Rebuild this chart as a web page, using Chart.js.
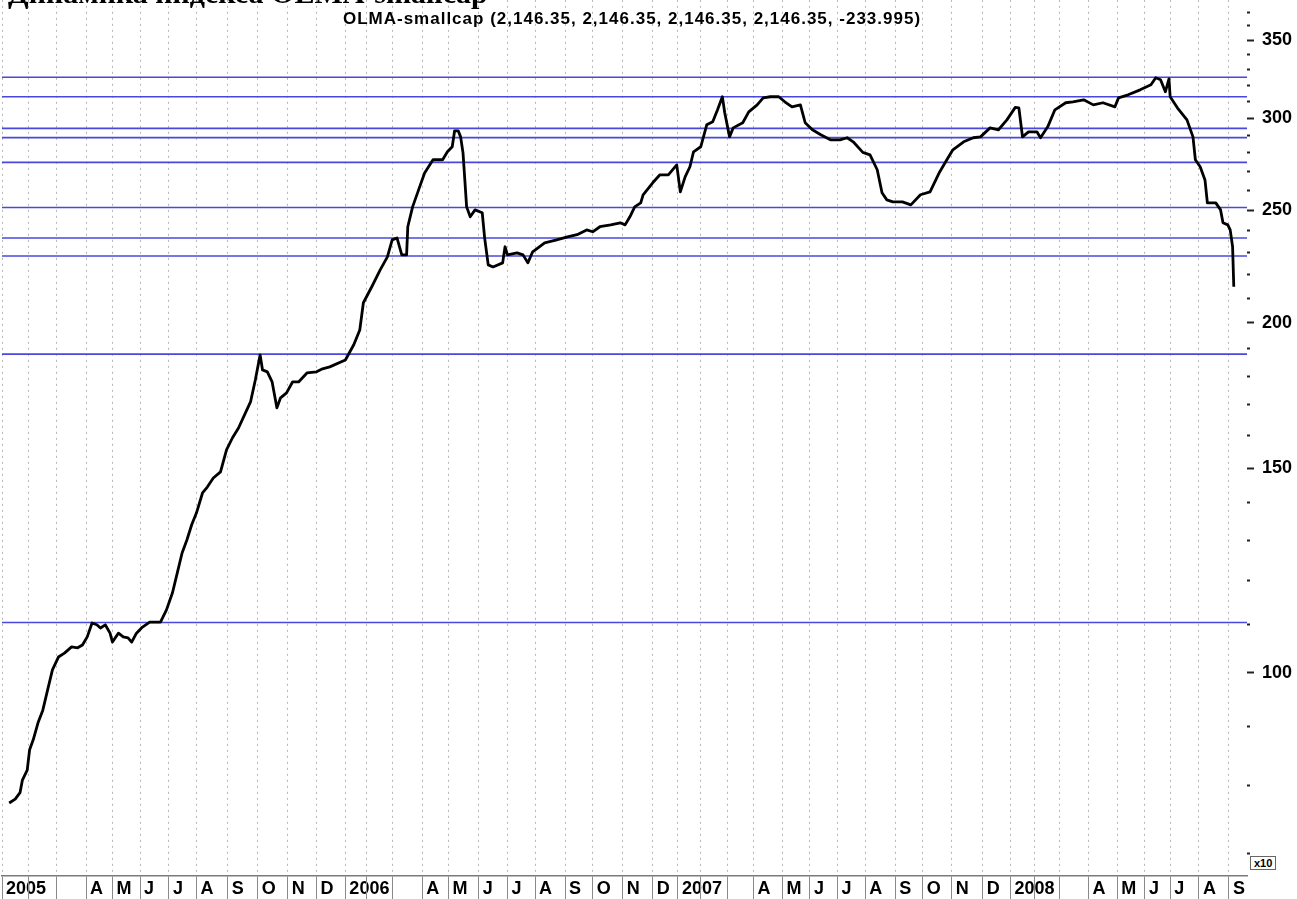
<!DOCTYPE html>
<html>
<head>
<meta charset="utf-8">
<title>Динамика индекса OLMA-smallcap</title>
<script src="https://cdn.jsdelivr.net/npm/chart.js@4.4.1/dist/chart.umd.min.js"></script>
<style>
html,body{margin:0;padding:0;background:#fff;width:1297px;height:899px;overflow:hidden;position:relative}
canvas{position:absolute;left:0;top:0}
#page-title{position:absolute;left:8px;top:-23px;font:bold 30px "Liberation Serif",serif;line-height:31px;white-space:nowrap;color:#000;z-index:2}
#chart-title{position:absolute;left:0;top:9px;width:1264px;text-align:center;font:bold 17px "Liberation Sans",Arial,sans-serif;line-height:20px;letter-spacing:1px;color:#000;z-index:2}
#scale-box{position:absolute;left:1250px;top:856px;border:1px solid #666;font:bold 11px "Liberation Sans",Arial,sans-serif;line-height:12px;padding:0 3px;color:#000;background:#fff;z-index:2}
</style>
</head>
<body>
<div id="page-title">Динамика индекса OLMA-smallcap</div>
<div id="chart-title">OLMA-smallcap (2,146.35, 2,146.35, 2,146.35, 2,146.35, -233.995)</div>
<div id="scale-box">x10</div>
<canvas id="chart"></canvas>
<script>
// index values; bar = trading bar number from the left edge
const bars = [2,7,11,13,17,19,22,26,30,34,38,43,48,54,59,63,67,71,75,78,82,86,88,93,97,101,104,108,113,119,
  128,133,138,142,146,150,154,158,163,167,172,178,183,188,193,198,203,207,211,213,217,221,225,228,233,238,243,250,258,263,
  269,282,289,294,297,304,311,317,321,325,329,333,334,338,343,348,355,363,367,371,373,376,378,380,383,386,390,396,398,401,
  405,413,415,417,425,430,434,438,448,458,467,475,483,488,494,503,511,515,519,523,528,530,538,544,551,558,561,565,569,572,
  578,583,588,592,596,598,602,605,613,618,625,630,636,643,648,654,661,665,671,678,686,694,700,705,713,719,725,729,733,738,
  746,753,761,769,777,783,788,797,805,811,819,826,833,840,843,846,851,858,861,867,873,882,888,897,905,913,923,926,934,944,
  953,957,961,965,968,969,975,983,988,990,994,998,1000,1007,1011,1013,1017,1019,1021,1022];
const closes = [77.3,77.9,78.9,80.9,82.5,85.9,87.6,90.6,92.9,96.7,100.6,103.2,104.0,105.3,105.1,105.7,107.4,110.4,110.0,109.3,110.0,108.2,106.3,108.2,107.4,107.2,106.3,108.2,109.5,110.6,
  110.6,113.3,117.2,121.9,126.8,130.1,134.1,137.3,142.8,144.5,147.1,148.9,155.5,159.3,162.4,166.7,171.0,178.6,187.7,182.2,181.5,177.9,169.0,172.4,174.1,177.9,177.9,181.1,181.5,182.6,
  183.3,185.8,191.5,197.2,208.1,214.8,222.1,227.9,235.7,236.6,228.8,228.8,241.9,251.6,260.2,269.1,276.2,276.2,280.6,283.4,292.5,292.5,289.0,280.0,251.6,246.7,250.1,248.7,236.6,224.3,
  223.4,225.2,232.5,228.8,229.7,228.8,225.2,230.2,234.3,235.7,237.1,238.1,240.4,239.5,241.9,242.8,243.8,242.8,246.7,251.6,253.6,257.7,263.9,268.1,268.1,273.4,259.2,267.0,272.4,280.6,
  283.4,296.0,297.8,304.9,312.9,303.1,289.0,294.2,297.2,303.7,307.9,312.2,312.9,312.9,309.8,306.7,307.9,297.2,293.1,290.2,287.3,287.3,288.5,286.2,280.3,278.9,270.8,258.7,255.1,254.1,
  254.1,252.6,257.7,259.2,269.6,276.2,281.7,286.2,288.5,289.0,294.2,293.1,298.9,306.4,306.1,289.0,291.9,291.9,288.5,294.8,304.9,309.2,309.8,311.0,307.9,309.2,306.7,312.2,314.1,317.2,
  320.4,324.9,323.6,316.0,324.2,312.9,306.1,298.9,289.0,276.2,272.4,265.4,253.6,253.6,250.1,243.8,242.8,240.4,232.5,214.8];

// horizontal support / resistance levels
const levels = [325.2, 312.9, 293.9, 288.6, 274.8, 251.3, 236.6, 228.3, 188.0, 110.5];

// month boundaries (bar number) and their labels
const monthBars = [-4,18,41,66,88,111,135,158,184,209,234,258,
  282,300,321,346,368,393,417,440,465,488,513,538,
  559,578,600,622,646,669,692,715,740,763,787,813,
  836,856,877,901,925,948,969,993,1018];
const monthLabels = ['2005','','','A','M','J','J','A','S','O','N','D',
  '2006','','','A','M','J','J','A','S','O','N','D',
  '2007','','','A','M','J','J','A','S','O','N','D',
  '2008','','','A','M','J','J','A','S'];

const yTicks = [70,80,90,100,110,120,130,140,150,160,170,180,190,200,210,220,230,240,250,260,270,280,290,300,310,320,330,340,350,360,370];
const yLabelled = [100,150,200,250,300,350];

const X_MIN = -4, X_MAX = 1033;
const Y_MIN = 66.9, Y_MAX = 379.1;

const AREA_BOTTOM = 876;  // page y of the date axis
const AREA_RIGHT = 1247;
const FONT_FAMILY = '"Liberation Sans", Arial, sans-serif';
const tickFont = {family:FONT_FAMILY, size:18, weight:'bold'};

// month letters sit in the row under the date axis, right of each separator
const monthLabelPlugin = {
  id:'monthLabels',
  beforeDraw(chart){
    const xs = chart.scales.x, ctx = chart.ctx;
    ctx.save();
    ctx.font = 'bold 18px ' + FONT_FAMILY;
    ctx.fillStyle = '#000';
    ctx.textAlign = 'left';
    ctx.textBaseline = 'middle';
    const y = xs.top + 13;
    monthBars.forEach((b,i)=>{
      if(monthLabels[i]) ctx.fillText(monthLabels[i], xs.getPixelForValue(b) + 4, y);
    });
    ctx.restore();
  }
};

function makeConfig(padRight){
  const price = {
    data: bars.map((b,i)=>({x:b, y:closes[i]})),
    borderColor:'#000', borderWidth:2.8, pointRadius:0, tension:0,
    borderJoinStyle:'round', fill:false
  };
  const lvl = levels.map(v=>({
    data:[{x:X_MIN,y:v},{x:X_MAX,y:v}],
    borderColor:'#4848dc', borderWidth:1.6, pointRadius:0, fill:false
  }));
  return {
    type:'line',
    data:{datasets:[price, ...lvl]},
    plugins:[monthLabelPlugin],
    options:{
      responsive:false, maintainAspectRatio:false, animation:false, devicePixelRatio:1,
      layout:{padding:{left:2, right:padRight, top:0, bottom:0}},
      plugins:{legend:{display:false}, tooltip:{enabled:false}, title:{display:false}},
      scales:{
        x:{
          type:'linear', min:X_MIN, max:X_MAX,
          afterBuildTicks: s => { s.ticks = monthBars.map(v=>({value:v})); },
          ticks:{display:false, autoSkip:false, maxRotation:0, minRotation:0},
          grid:{
            color:'#b4b4b4', lineWidth:1, drawTicks:true, tickLength:24,
            tickColor:'#8a8a8a', tickWidth:1, tickBorderDash:[]
          },
          border:{display:true, color:'#7a7a7a', width:1.5, dash:[2,4]}
        },
        y:{
          type:'logarithmic', position:'right', min:Y_MIN, max:Y_MAX,
          afterBuildTicks: s => { s.ticks = yTicks.map(v=>({value:v})); },
          ticks:{
            autoSkip:false, padding:8, color:'#000', font:tickFont,
            callback: v => yLabelled.includes(v) ? String(v) : ''
          },
          grid:{
            drawOnChartArea:false, drawTicks:true, tickLength:7,
            tickColor:'#222', tickWidth:2,
            tickBorderDash: c => (c.tick && !yLabelled.includes(c.tick.value)) ? [3,20] : []
          },
          border:{display:false}
        }
      }
    }
  };
}

const canvas = document.getElementById('chart');
function build(h, padRight){
  canvas.width = 1297; canvas.height = h;
  canvas.style.width = '1297px'; canvas.style.height = h + 'px';
  return new Chart(canvas, makeConfig(padRight));
}

// first pass to measure the axes, second pass to place the plot area
let chart = build(899, 6);
const T = chart.chartArea.top;
const B = chart.height - chart.chartArea.bottom;
const padR = 6 + (chart.chartArea.right - AREA_RIGHT);
chart.destroy();
canvas.style.top = (-T) + 'px';
chart = build(Math.round(T + AREA_BOTTOM + B), padR);
</script>
</body>
